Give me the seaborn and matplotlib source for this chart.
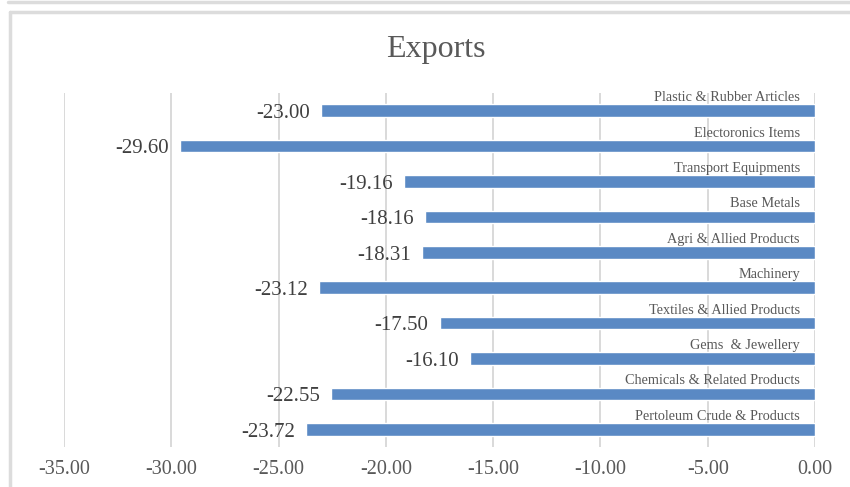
import matplotlib
matplotlib.use("Agg")
import matplotlib.pyplot as plt
from matplotlib.lines import Line2D
import seaborn as sns
import pandas as pd

categories = [
    "Plastic & Rubber Articles",
    "Electoronics Items",
    "Transport Equipments",
    "Base Metals",
    "Agri & Allied Products",
    "Machinery",
    "Textiles & Allied Products",
    "Gems  & Jewellery",
    "Chemicals & Related Products",
    "Pertoleum Crude & Products",
]
values = [-23.00, -29.60, -19.16, -18.16, -18.31, -23.12, -17.50, -16.10, -22.55, -23.72]
x_ticks = [-35, -30, -25, -20, -15, -10, -5, 0]

df = pd.DataFrame({"category": categories, "value": values})

sns.set_theme(style="white")
plt.rcParams["font.family"] = ["Liberation Serif", "DejaVu Serif"]

W, H = 850, 487
fig = plt.figure(figsize=(W / 100, H / 100), dpi=100)
ax = fig.add_axes([64 / W, 1 - 447 / H, (815 - 64) / W, (447 - 93) / H])

bar_color = "#5a89c4"
text_gray = "#595959"
grid_gray = "#d9d9d9"

sns.barplot(data=df, x="value", y="category", order=categories, orient="h",
            color=bar_color, saturation=1, width=0.36, ax=ax, zorder=3)

ax.set_xlim(-35, 0)
ax.set_ylim(9.5, -0.5)
ax.set_xticks(x_ticks)
ax.set_xticklabels([f"{t:.2f}" for t in x_ticks], fontsize=14.5, color=text_gray)
ax.tick_params(axis="x", length=0, pad=9)
ax.set_yticks([])
ax.set_xlabel("")
ax.set_ylabel("")
for s in ax.spines.values():
    s.set_visible(False)
ax.grid(axis="x", color=grid_gray, linewidth=1.4, zorder=0)
ax.set_axisbelow(True)

for i, (cat, v) in enumerate(zip(categories, values)):
    ax.text(-0.7, i - 0.37, cat, ha="right", va="center", fontsize=10.3,
            color=text_gray, zorder=4)
    ax.annotate(f"{v:.2f}", xy=(v, i), xytext=(-8, -2), textcoords="offset points",
                ha="right", va="center", fontsize=15, color="#404040", zorder=4)

fig.text(436 / W, 1 - 49 / H, "Exports", ha="center", va="center",
         fontsize=23, color=text_gray)

# chart-area frame
frame = dict(color="#dcdcdc", linewidth=2.5, transform=fig.transFigure)
fig.add_artist(Line2D([10 / W, 10 / W], [0, 1 - 12 / H], **frame))
fig.add_artist(Line2D([10 / W, 1], [1 - 12 / H, 1 - 12 / H], **frame))
fig.add_artist(Line2D([8 / W, 1], [1 - 1.5 / H, 1 - 1.5 / H], **frame))

fig.savefig("out.png", dpi=100)
